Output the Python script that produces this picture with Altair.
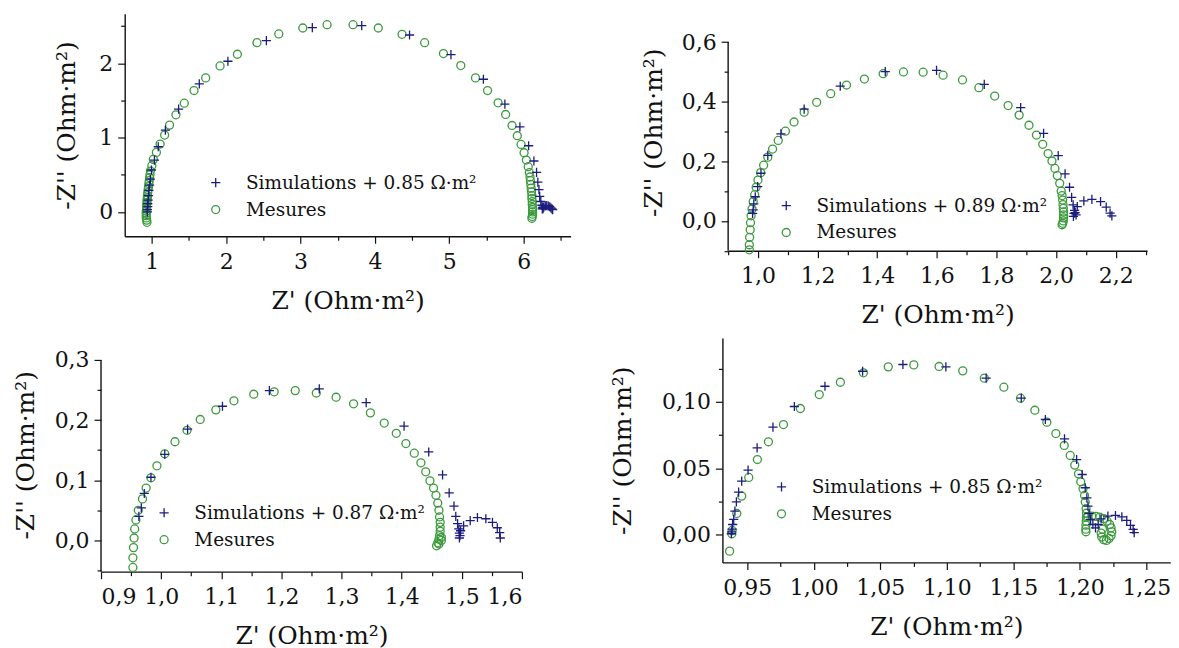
import altair as alt
import pandas as pd

FONT = "DejaVu Serif"
NAVY = "#1c1c80"
GREEN = "#3c9a3c"
INK = "#111111"
PLUS = "M-1.15,0L1.15,0M0,-1.15L0,1.15"
X_TITLE = "Z' (Ohm·m²)"
Y_TITLE = "-Z'' (Ohm·m²)"
MES = "Mesures"

# ---------------- Panel 1 (top left) ----------------
P1_SIM_LABEL = "Simulations + 0.85 Ω·m²"
P1_MES_X = [0.935, 0.93, 0.925, 0.925, 0.925, 0.925, 0.93, 0.93, 0.93, 0.935, 0.935, 0.94, 0.94, 0.945,
            0.95, 0.955, 0.96, 0.965, 0.97, 0.975, 0.98, 1.0, 1.02, 1.061, 1.111, 1.172, 1.238, 1.324,
            1.436, 1.567, 1.724, 1.917, 2.15, 2.413, 2.707, 3.03, 3.356, 3.705, 4.045, 4.364, 4.668,
            4.921, 5.154, 5.352, 5.514, 5.656, 5.757, 5.843, 5.914, 5.965, 6.005, 6.036, 6.061, 6.076,
            6.085, 6.09, 6.095, 6.10, 6.105, 6.11, 6.11, 6.115, 6.115, 6.12, 6.12, 6.12, 6.12, 6.115, 6.11]
P1_MES_Y = [-0.14, -0.11, -0.08, -0.05, -0.02, 0.01, 0.04, 0.07, 0.10, 0.13, 0.16, 0.19, 0.22, 0.26,
            0.30, 0.34, 0.38, 0.42, 0.46, 0.50, 0.55, 0.622, 0.707, 0.801, 0.913, 1.034, 1.168, 1.306,
            1.463, 1.633, 1.803, 1.964, 2.121, 2.277, 2.394, 2.474, 2.519, 2.519, 2.474, 2.389, 2.277,
            2.13, 1.969, 1.803, 1.633, 1.468, 1.311, 1.163, 1.025, 0.908, 0.796, 0.698, 0.609, 0.528,
            0.47, 0.42, 0.37, 0.32, 0.27, 0.22, 0.18, 0.14, 0.10, 0.06, 0.03, 0.0, -0.03, -0.06, -0.085]
P1_SIM_X = [0.94, 0.94, 0.945, 0.945, 0.95, 0.955, 0.96, 0.97, 0.98, 0.995, 1.035, 1.086, 1.182, 1.36,
            1.638, 2.023, 2.54, 3.158, 3.822, 4.465, 5.022, 5.458, 5.747, 5.949, 6.066, 6.137, 6.173,
            6.19, 6.205, 6.215, 6.23, 6.245, 6.255, 6.27, 6.29, 6.31, 6.33, 6.35, 6.365, 6.38, 6.39,
            6.26, 6.25]
P1_SIM_Y = [0.0, 0.03, 0.07, 0.11, 0.16, 0.22, 0.29, 0.36, 0.44, 0.564, 0.698, 0.877, 1.101, 1.383,
            1.723, 2.027, 2.304, 2.479, 2.506, 2.38, 2.116, 1.785, 1.45, 1.145, 0.89, 0.685, 0.532,
            0.40, 0.30, 0.21, 0.14, 0.09, 0.06, 0.065, 0.08, 0.085, 0.08, 0.07, 0.055, 0.04, 0.03,
            0.045, 0.04]
P1_X_TICKS = [1, 1.5, 2, 2.5, 3, 3.5, 4, 4.5, 5, 5.5, 6, 6.5]
P1_Y_TICKS = [0, 0.5, 1, 1.5, 2, 2.5]

# ---------------- Panel 2 (top right) ----------------
P2_SIM_LABEL = "Simulations + 0.89 Ω·m²"
P2_MES_X = [0.971, 0.971, 0.972, 0.974, 0.975, 0.977, 0.98, 0.984, 0.989, 0.994, 1.0, 1.009, 1.019,
            1.033, 1.049, 1.068, 1.092, 1.121, 1.155, 1.197, 1.244, 1.297, 1.357, 1.42, 1.488, 1.554,
            1.621, 1.686, 1.741, 1.794, 1.839, 1.876, 1.909, 1.934, 1.955, 1.973, 1.986, 1.996, 2.004,
            2.012, 2.017, 2.02, 2.022, 2.023, 2.024, 2.025, 2.025, 2.025, 2.024, 2.022, 2.02]
P2_MES_Y = [-0.097, -0.08, -0.055, -0.03, -0.006, 0.017, 0.04, 0.065, 0.088, 0.113, 0.137, 0.162,
            0.187, 0.214, 0.241, 0.27, 0.301, 0.332, 0.365, 0.398, 0.427, 0.456, 0.476, 0.494, 0.5,
            0.499, 0.489, 0.473, 0.447, 0.419, 0.387, 0.355, 0.321, 0.288, 0.257, 0.226, 0.201, 0.176,
            0.152, 0.126, 0.1, 0.085, 0.07, 0.055, 0.042, 0.03, 0.02, 0.01, 0.0, -0.008, -0.013]
P2_SIM_X = [0.982, 0.984, 0.986, 0.991, 0.999, 1.01, 1.033, 1.077, 1.155, 1.276, 1.427, 1.599, 1.759,
            1.881, 1.958, 2.007, 2.03, 2.045, 2.052, 2.057, 2.062, 2.067, 2.06, 2.058, 2.064, 2.071,
            2.093, 2.12, 2.149, 2.168, 2.181, 2.187]
P2_SIM_Y = [0.025, 0.037, 0.057, 0.081, 0.115, 0.16, 0.22, 0.292, 0.375, 0.452, 0.501, 0.505, 0.458,
            0.38, 0.294, 0.219, 0.158, 0.113, 0.079, 0.054, 0.035, 0.02, 0.025, 0.015, 0.028, 0.048,
            0.067, 0.072, 0.065, 0.046, 0.026, 0.017]
P2_X_TICKS = [0.9, 1.0, 1.1, 1.2, 1.3, 1.4, 1.5, 1.6, 1.7, 1.8, 1.9, 2.0, 2.1, 2.2, 2.3]
P2_Y_TICKS = [-0.1, 0.0, 0.1, 0.2, 0.3, 0.4, 0.5, 0.6]

# ---------------- Panel 3 (bottom left) ----------------
P3_SIM_LABEL = "Simulations + 0.87 Ω·m²"
P3_MES_X = [0.953, 0.953, 0.954, 0.955, 0.956, 0.958, 0.962, 0.969, 0.975, 0.983, 0.993, 1.006, 1.023,
            1.043, 1.065, 1.091, 1.121, 1.154, 1.188, 1.223, 1.258, 1.291, 1.32, 1.348, 1.371, 1.391,
            1.407, 1.421, 1.432, 1.44, 1.447, 1.453, 1.457, 1.46, 1.462, 1.463, 1.464, 1.464, 1.464,
            1.463, 1.462, 1.46, 1.458, 1.462, 1.466, 1.466]
P3_MES_Y = [-0.045, -0.029, -0.012, 0.004, 0.019, 0.034, 0.05, 0.069, 0.087, 0.104, 0.124, 0.144,
            0.164, 0.183, 0.201, 0.217, 0.232, 0.243, 0.247, 0.249, 0.245, 0.238, 0.227, 0.212, 0.195,
            0.178, 0.161, 0.145, 0.129, 0.114, 0.099, 0.087, 0.075, 0.062, 0.05, 0.039, 0.03, 0.022,
            0.015, 0.008, 0.002, -0.004, -0.009, -0.006, 0.0, 0.005]
P3_SIM_X = [0.963, 0.967, 0.972, 0.983, 1.006, 1.044, 1.102, 1.18, 1.263, 1.341, 1.404, 1.445, 1.468,
            1.479, 1.487, 1.49, 1.493, 1.495, 1.496, 1.496, 1.497, 1.498, 1.503, 1.514, 1.526, 1.54,
            1.551, 1.559, 1.563, 1.564]
P3_SIM_Y = [0.04, 0.054, 0.078, 0.105, 0.143, 0.185, 0.223, 0.249, 0.252, 0.229, 0.19, 0.147, 0.109,
            0.079, 0.057, 0.04, 0.028, 0.019, 0.012, 0.004, 0.008, 0.016, 0.024, 0.033, 0.038, 0.036,
            0.03, 0.021, 0.013, 0.004]
P3_X_TICKS = [0.9, 0.95, 1.0, 1.05, 1.1, 1.15, 1.2, 1.25, 1.3, 1.35, 1.4, 1.45, 1.5, 1.55, 1.6]
P3_Y_TICKS = [-0.05, 0.0, 0.05, 0.1, 0.15, 0.2, 0.25, 0.3]

# ---------------- Panel 4 (bottom right) ----------------
P4_SIM_LABEL = "Simulations + 0.85 Ω·m²"
P4_MES_X = [0.9367, 0.9384, 0.9386, 0.9421, 0.9458, 0.9511, 0.9576, 0.9659, 0.9772, 0.9899, 1.0041,
            1.02, 1.0373, 1.056, 1.0752, 1.0942, 1.112, 1.1282, 1.1429, 1.1554, 1.1662, 1.1752, 1.182,
            1.1883, 1.1928, 1.1962, 1.199, 1.2007, 1.2024, 1.2036, 1.2041, 1.2047, 1.205, 1.205, 1.2048,
            1.2046, 1.2045, 1.2046, 1.206, 1.209, 1.212, 1.215, 1.218, 1.2205, 1.2225, 1.2235, 1.224,
            1.2235, 1.222, 1.22, 1.218, 1.2165, 1.216, 1.217]
P4_MES_Y = [-0.0126, 0.0005, 0.003, 0.0158, 0.0289, 0.043, 0.0565, 0.0699, 0.0829, 0.095, 0.1055,
            0.1148, 0.1219, 0.1264, 0.1279, 0.1267, 0.1234, 0.1179, 0.1111, 0.1028, 0.0937, 0.0847,
            0.0761, 0.0671, 0.0596, 0.0523, 0.0457, 0.0397, 0.0344, 0.0294, 0.0244, 0.0194, 0.016,
            0.013, 0.01, 0.007, 0.004, 0.002, 0.0135, 0.0138, 0.0136, 0.013, 0.012, 0.01, 0.0075, 0.005,
            0.002, -0.001, -0.003, -0.0045, -0.004, -0.002, 0.001, 0.004]
P4_SIM_X = [0.938, 0.9382, 0.9386, 0.939, 0.9398, 0.9407, 0.9418, 0.9435, 0.9458, 0.9506, 0.9574,
            0.9693, 0.9854, 1.0084, 1.0367, 1.067, 1.0993, 1.1296, 1.156, 1.1741, 1.1885, 1.1976,
            1.2018, 1.2041, 1.2053, 1.2061, 1.207, 1.2081, 1.2098, 1.2118, 1.2138, 1.216, 1.2211,
            1.2268, 1.2316, 1.2353, 1.2381, 1.2401, 1.2409]
P4_SIM_Y = [0.0005, 0.002, 0.004, 0.0075, 0.0113, 0.0176, 0.0246, 0.0319, 0.0402, 0.0485, 0.0653,
            0.0809, 0.0965, 0.1118, 0.1231, 0.1282, 0.1264, 0.1179, 0.1028, 0.0867, 0.0721, 0.0565,
            0.0452, 0.0352, 0.0276, 0.0214, 0.0158, 0.0113, 0.0075, 0.005, 0.0075, 0.0118, 0.0138,
            0.0143, 0.0133, 0.0106, 0.0068, 0.0038, 0.0013]
P4_X_TICKS = [0.95, 0.975, 1.0, 1.025, 1.05, 1.075, 1.1, 1.125, 1.15, 1.175, 1.2, 1.225, 1.25]
P4_Y_TICKS = [0.0, 0.025, 0.05, 0.075, 0.1, 0.125]


def make_axis(title, values, step, decimals, title_pad, label_pad, domain=True):
    minor = f"abs(datum.value / {step} - round(datum.value / {step})) > 0.001"
    if decimals == 0:
        fmt = "format(datum.value, 'd')"
    else:
        fmt = f"replace(format(datum.value, '.{decimals}f'), '.', ',')"
    return alt.Axis(
        title=title, values=values, labelExpr=f"({minor}) ? '' : {fmt}",
        tickSize={"condition": {"test": minor, "value": 4}, "value": 7},
        grid=False, domain=domain, domainColor=INK, domainWidth=1.4, tickColor=INK, tickWidth=1.2,
        labelFont=FONT, labelFontSize=22, labelColor=INK, labelPadding=label_pad,
        labelOverlap=False, titleFont=FONT, titleFontSize=25, titleFontWeight="normal",
        titleColor=INK, titlePadding=title_pad,
    )


def panel(sim_label, mes_x, mes_y, sim_x, sim_y, xdom, ydom, xticks, yticks, xstep, ystep,
          dec, w, h, leg_x, leg_y, ytitle_pad, yscale_top=None):
    df = pd.DataFrame({
        "re": list(mes_x) + list(sim_x),
        "im": list(mes_y) + list(sim_y),
        "serie": [MES] * len(mes_x) + [sim_label] * len(sim_x),
    })
    dom = [sim_label, MES]
    leg = alt.Legend(
        title=None, orient="none", legendX=leg_x, legendY=leg_y, padding=0,
        labelFont=FONT, labelFontSize=18.5, labelColor=INK, labelOffset=21, labelLimit=500,
        rowPadding=8, symbolSize=64, symbolStrokeWidth=1.3,
    )
    extended = yscale_top is not None
    yscale = [ydom[0], yscale_top if extended else ydom[1]]
    xs = alt.Scale(domain=xdom, nice=False, zero=False)
    ys = alt.Scale(domain=yscale, nice=False, zero=False)
    xax = make_axis(X_TITLE, xticks, xstep, dec, 16, 8)
    yax = make_axis(Y_TITLE, yticks, ystep, dec, ytitle_pad, 5, domain=not extended)
    pts = alt.Chart(df).mark_point(filled=False, strokeWidth=1.3, size=64, opacity=1).encode(
        x=alt.X("re:Q", scale=xs, axis=xax),
        y=alt.Y("im:Q", scale=ys, axis=yax),
        color=alt.Color("serie:N", scale=alt.Scale(domain=dom, range=[NAVY, GREEN]), legend=leg),
        shape=alt.Shape("serie:N", scale=alt.Scale(domain=dom, range=[PLUS, "circle"]), legend=leg),
    )
    if not extended:
        return pts.properties(width=w, height=h)
    # left axis line limited to the axis range (the view is taller than the axis)
    spine_df = pd.DataFrame({"re": [xdom[0]], "im": [ydom[0]], "im2": [ydom[1]]})
    spine = alt.Chart(spine_df).mark_rule(color=INK, strokeWidth=1.4).encode(
        x=alt.X("re:Q", scale=xs, axis=xax),
        y=alt.Y("im:Q", scale=ys, axis=yax),
        y2="im2:Q",
    )
    return alt.layer(pts, spine).properties(width=w, height=h)


p1 = panel(P1_SIM_LABEL, P1_MES_X, P1_MES_Y, P1_SIM_X, P1_SIM_Y, [0.635, 6.63], [-0.327, 2.665],
           P1_X_TICKS, P1_Y_TICKS, 1, 1, 0, 447, 223, 82, 160, 19)
p2 = panel(P2_SIM_LABEL, P2_MES_X, P2_MES_Y, P2_SIM_X, P2_SIM_Y, [0.9, 2.305], [-0.1, 0.6],
           P2_X_TICKS, P2_Y_TICKS, 0.2, 0.2, 1, 420, 237.5, 49, 183, 15, yscale_top=0.695)
p3 = panel(P3_SIM_LABEL, P3_MES_X, P3_MES_Y, P3_SIM_X, P3_SIM_Y, [0.9, 1.6], [-0.052, 0.3],
           P3_X_TICKS, P3_Y_TICKS, 0.1, 0.1, 1, 422, 234.3, 54, 166, 16, yscale_top=0.3365)
p4 = panel(P4_SIM_LABEL, P4_MES_X, P4_MES_Y, P4_SIM_X, P4_SIM_Y, [0.9313, 1.268], [-0.0211, 0.1482],
           P4_X_TICKS, P4_Y_TICKS, 0.05, 0.05, 2, 449, 225, 50, 140, 26)

row1 = (alt.concat(p1, p2, columns=2, spacing=71, align="none")
        .resolve_scale(color="independent", shape="independent"))
row2 = (alt.concat(p3, p4, columns=2, spacing=88, align="none")
        .resolve_scale(color="independent", shape="independent"))

chart = (
    alt.vconcat(row1, row2, spacing=10, center=True)
    .resolve_scale(color="independent", shape="independent")
    .properties(padding={"left": 5, "top": 5, "right": 0, "bottom": 0}, background="white")
    .configure_view(stroke=None)
)

chart.save("out.html", embed_options={"renderer": "svg", "actions": False})
